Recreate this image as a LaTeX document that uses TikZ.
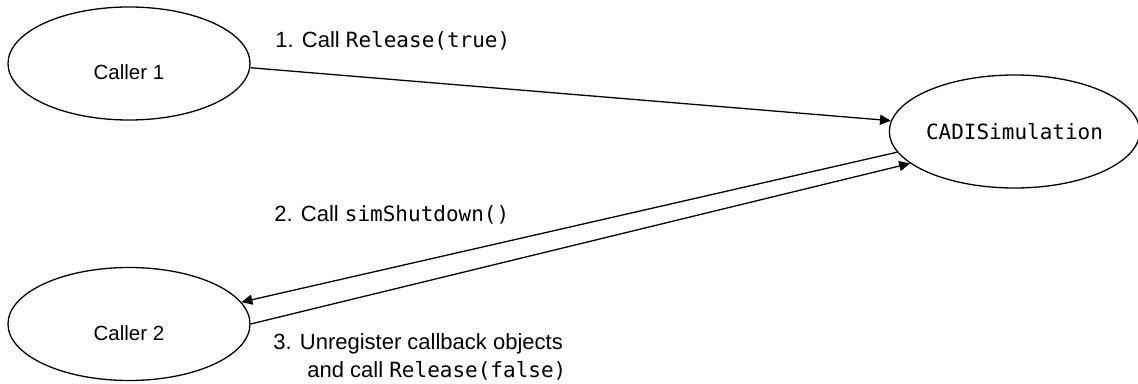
\documentclass[tikz,border=0pt]{standalone}
\usepackage{fontspec}
\setmainfont{Liberation Sans}
\newfontfamily\codefont{DejaVu Sans Mono}
\newcommand\mycode[1]{{\codefont\fontsize{10.5}{13}\selectfont #1}}
\usetikzlibrary{arrows.meta,shapes.geometric}
\begin{document}
\begin{tikzpicture}[x=0.5pt,y=-0.5pt,
  actor/.style={draw,ellipse,line width=0.65pt,minimum width=121pt,minimum height=56.5pt,inner sep=0pt,font=\fontsize{10.25}{12}\selectfont},
  flow/.style={line width=0.65pt,-{Triangle[length=5.5pt,width=5pt]}},
  lbl/.style={anchor=base west,inner sep=0pt,font=\fontsize{11}{13}\selectfont}]
\useasboundingbox (0,0) rectangle (1138,384);
\node[actor] (c1) at (129,63.5) {\raisebox{-4.5pt}[\height][\depth]{Caller 1}};
\node[actor] (c2) at (129,324) {\raisebox{-4.5pt}[\height][\depth]{Caller 2}};
\node[actor] (sim) at (1014.5,131.5) {\mycode{CADISimulation}};
\draw[flow] (c1.-2) -- (sim.175);
\draw[flow] (sim.190) -- (c2.11);
\draw[flow] (c2.0) -- (sim.197.5);
\node[lbl] (l1) at (275,48) {1. Call \mycode{Release(true)}};
\node[lbl] (l2) at (274,222) {2. Call \mycode{simShutdown()}};
\node[lbl] (l3a) at (273,349) {3. Unregister callback objects};
\node[lbl] (l3b) at (307,377) {and call \mycode{Release(false)}};
\end{tikzpicture}
\end{document}
